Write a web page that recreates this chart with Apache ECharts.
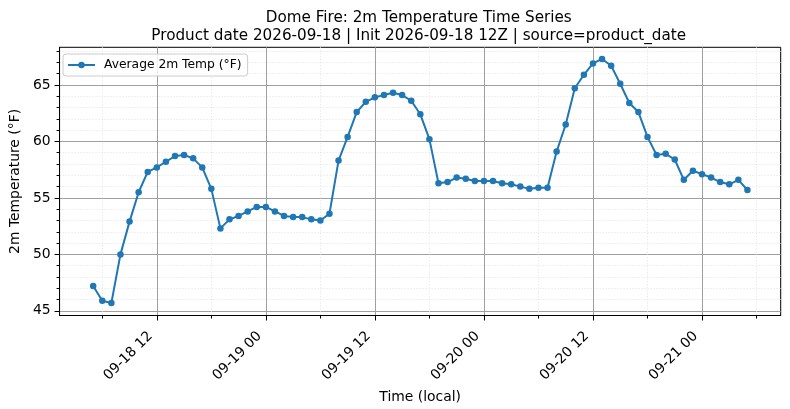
<!DOCTYPE html>
<html>
<head>
<meta charset="utf-8">
<script src="https://cdn.jsdelivr.net/npm/echarts@6/dist/echarts.min.js"></script>
<style>
  html, body { margin: 0; padding: 0; background: #fff; }
  #chart { width: 790px; height: 409px; }
</style>
</head>
<body>
<div id="chart"></div>
<script>
// hourly series, first point 09-18 05:00 local (hours counted from 09-18 00:00)
var firstHour = 5;
var temps = [
    47.2, 45.9, 45.7, 50.0, 52.9, 55.5, 57.3, 57.7, 58.2, 58.7,
    58.8, 58.5, 57.7, 55.8, 52.3, 53.1, 53.4, 53.8, 54.2, 54.2,
    53.8, 53.4, 53.3, 53.3, 53.1, 53.0, 53.6, 58.3, 60.4, 62.6,
    63.5, 63.9, 64.1, 64.3, 64.1, 63.6, 62.4, 60.2, 56.3, 56.4,
    56.8, 56.7, 56.5, 56.5, 56.5, 56.3, 56.2, 56.0, 55.8, 55.9,
    55.9, 59.1, 61.5, 64.7, 65.9, 66.9, 67.3, 66.7, 65.1, 63.4,
    62.6, 60.4, 58.8, 58.9, 58.4, 56.6, 57.4, 57.1, 56.8, 56.4,
    56.2, 56.6, 55.7
];

// x ticks (hours from 09-18 00:00)
var xTickHours = [12, 24, 36, 48, 60, 72];
var xTickLabels = ['09-18 12', '09-19 00', '09-19 12', '09-20 00', '09-20 12', '09-21 00'];
var xMinorHours = [6, 18, 30, 42, 54, 66, 78];

// y ticks
var yTicks = [45, 50, 55, 60, 65];
var yMinor = [46, 47, 48, 49, 51, 52, 53, 54, 56, 57, 58, 59, 61, 62, 63, 64, 66, 67, 68];

var xMin = 1.3, xMax = 80.66;
var yMin = 44.59, yMax = 68.33;

var seriesData = temps.map(function (v, i) { return [firstHour + i, v]; });

var FONT = 'DejaVu Sans';
var chart = echarts.init(document.getElementById('chart'));

var option = {
    animation: false,
    backgroundColor: '#fff',
    title: {
        left: 418.7,
        top: 0,
        textAlign: 'center',
        padding: [9, 0, 0, 0],
        text: 'Dome Fire: 2m Temperature Time Series\nProduct date 2026-09-18 | Init 2026-09-18 12Z | source=product_date',
        textStyle: {
            fontFamily: FONT,
            fontSize: 15.2,
            fontWeight: 'normal',
            color: '#000',
            lineHeight: 18.2
        }
    },
    legend: {
        left: 63,
        top: 54,
        padding: [5, 6, 5, 4],
        itemWidth: 27,
        itemHeight: 8,
        backgroundColor: 'rgba(255,255,255,0.8)',
        borderColor: '#cccccc',
        borderWidth: 1,
        borderRadius: 3,
        textStyle: {
            fontFamily: FONT,
            fontSize: 12.3,
            color: '#000',
            padding: [0, 0, 0, 4]
        },
        data: ['Average 2m Temp (°F)']
    },
    grid: {
        left: 56.7,
        right: 9.3,
        top: 47.3,
        bottom: 92.7,
        show: true,
        borderColor: '#000',
        borderWidth: 1,
        containLabel: false
    },
    xAxis: [
        {
            type: 'value',
            min: xMin,
            max: xMax,
            position: 'bottom',
            name: 'Time (local)',
            nameLocation: 'middle',
            nameGap: 69,
            nameTextStyle: { fontFamily: FONT, fontSize: 13.9, color: '#000' },
            axisLine: { show: true, lineStyle: { color: '#000', width: 1 } },
            axisTick: { show: true, length: 5, customValues: xTickHours, lineStyle: { color: '#000' } },
            axisLabel: {
                customValues: xTickHours,
                rotate: 45,
                margin: 12,
                padding: [0, 9, 0, 0],
                fontFamily: FONT,
                fontSize: 13.9,
                color: '#000',
                formatter: function (v) {
                    var i = xTickHours.indexOf(Math.round(v));
                    return i >= 0 ? xTickLabels[i] : '';
                }
            },
            splitLine: { show: true, lineStyle: { color: '#a0a0a0', width: 1 } }
        },
        {
            type: 'value',
            min: xMin,
            max: xMax,
            position: 'bottom',
            axisLine: { show: false },
            axisTick: { show: true, length: 3, customValues: xMinorHours, lineStyle: { color: '#000' } },
            axisLabel: { show: false, customValues: xMinorHours },
            splitLine: { show: true, lineStyle: { color: '#e2e2e2', width: 1, type: [1, 2] } }
        }
    ],
    yAxis: [
        {
            type: 'value',
            min: yMin,
            max: yMax,
            position: 'left',
            name: '2m Temperature (°F)',
            nameLocation: 'middle',
            nameGap: 32,
            nameTextStyle: { fontFamily: FONT, fontSize: 13.9, color: '#000' },
            axisLine: { show: true, lineStyle: { color: '#000', width: 1 } },
            axisTick: { show: true, length: 5, customValues: yTicks, lineStyle: { color: '#000' } },
            axisLabel: {
                customValues: yTicks,
                margin: 9,
                fontFamily: FONT,
                fontSize: 13.9,
                color: '#000'
            },
            splitLine: { show: true, lineStyle: { color: '#a0a0a0', width: 1 } }
        },
        {
            type: 'value',
            min: yMin,
            max: yMax,
            position: 'left',
            axisLine: { show: false },
            axisTick: { show: true, length: 3, customValues: yMinor, lineStyle: { color: '#000' } },
            axisLabel: { show: false, customValues: yMinor },
            splitLine: { show: true, lineStyle: { color: '#e2e2e2', width: 1, type: [1, 2] } }
        }
    ],
    series: [
        {
            name: 'Average 2m Temp (°F)',
            type: 'line',
            xAxisIndex: 0,
            yAxisIndex: 0,
            data: seriesData,
            symbol: 'circle',
            symbolSize: 6.5,
            showAllSymbol: true,
            lineStyle: { color: '#1f77b4', width: 2 },
            itemStyle: { color: '#1f77b4' },
            z: 5
        }
    ]
};
chart.setOption(option);
</script>
</body>
</html>
